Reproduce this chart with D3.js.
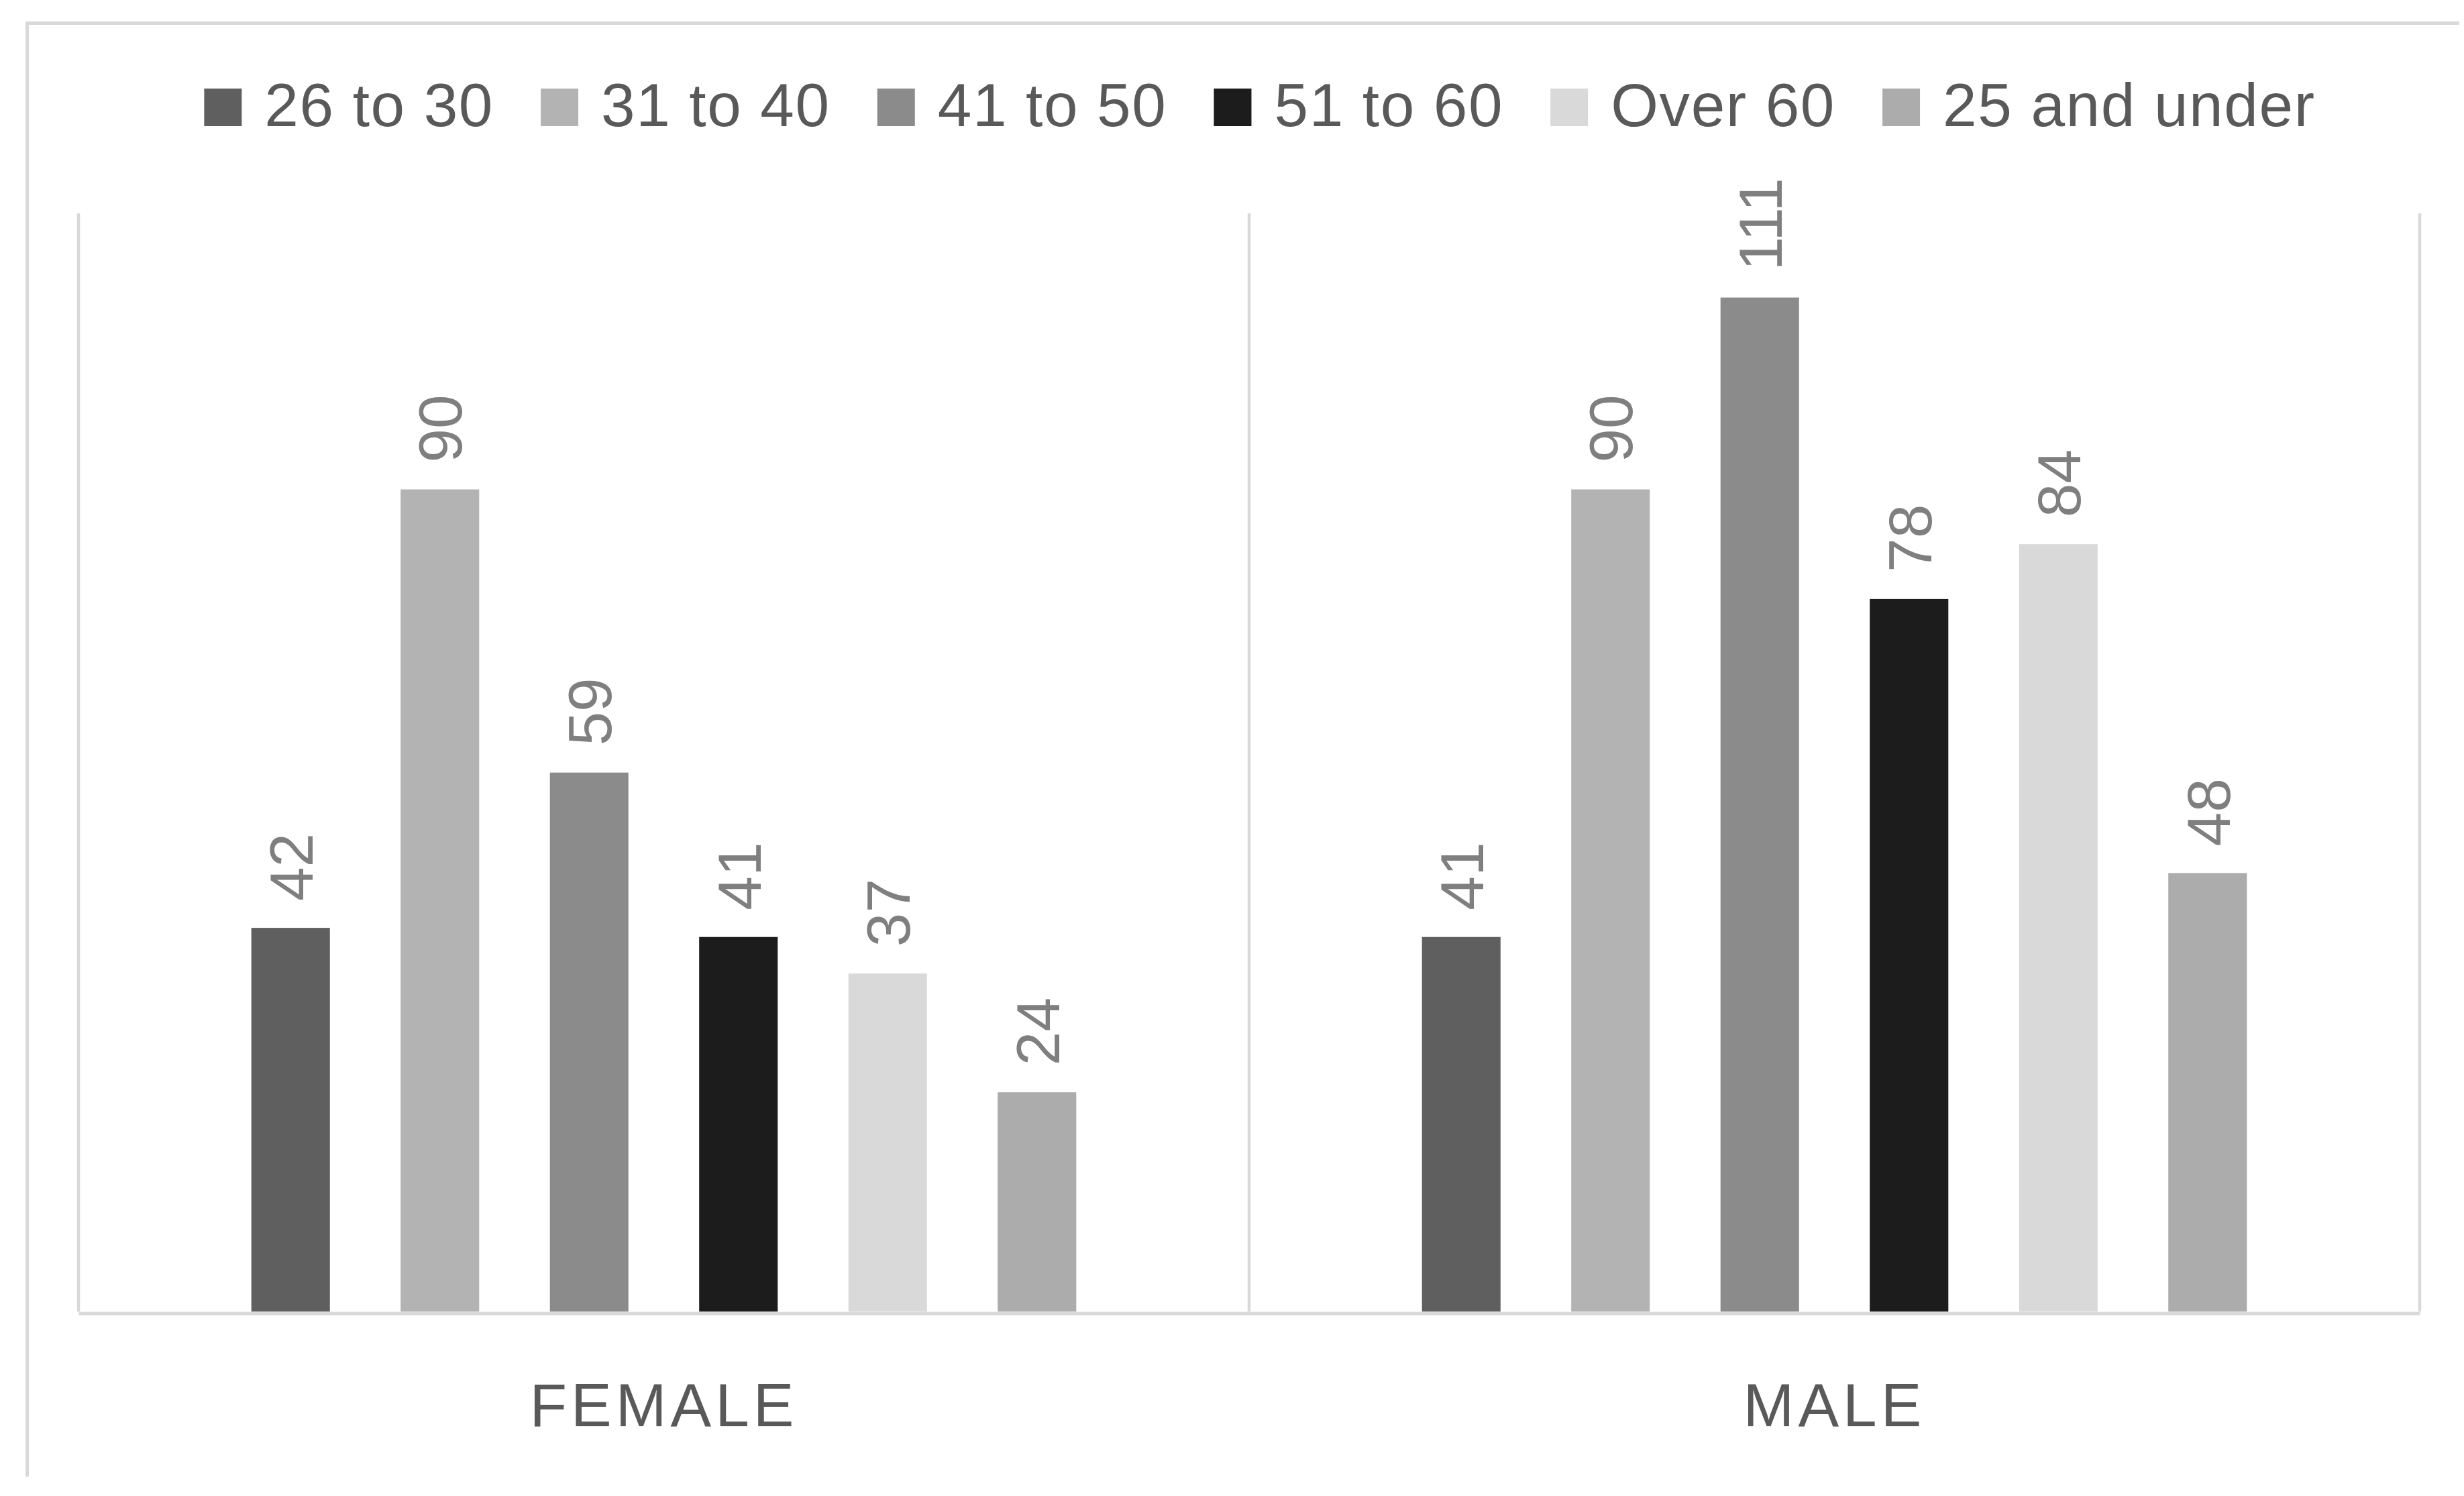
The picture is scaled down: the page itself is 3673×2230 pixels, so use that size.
<!DOCTYPE html>
<html>
<head>
<meta charset="utf-8">
<script src="https://cdn.jsdelivr.net/npm/d3@7/dist/d3.min.js"></script>
<style>
  html, body { margin: 0; padding: 0; background: #ffffff; }
  svg { display: block; }
  text { font-family: "Liberation Sans", Arial, sans-serif; }
</style>
</head>
<body>
<svg id="chart" width="3673" height="2230"></svg>
<script>
// ---- data ----
const categories = ["FEMALE", "MALE"];
const seriesNames = ["26 to 30", "31 to 40", "41 to 50", "51 to 60", "Over 60", "25 and under"];
const femaleValues = [42, 90, 59, 41, 37, 24];
const maleValues = [41, 90, 111, 78, 84, 48];
const seriesColors = ["#5f5f5f", "#b3b3b3", "#8b8b8b", "#1c1c1c", "#d9d9d9", "#acacac"];
const yDomain = [0, 120];

// ---- layout ----
const W = 3673, H = 2230;
const plot = { left: 117, right: 3607, top: 321, bottom: 1955 };
const fontSize = 91;

const svg = d3.select("#chart");

// outer frame (left + top edges visible)
svg.append("path")
  .attr("d", `M40.5,2201 V34.5 H3666`)
  .attr("fill", "none")
  .attr("stroke", "#d9d9d9")
  .attr("stroke-width", 5);

const x0 = d3.scaleBand().domain(categories).range([plot.left, plot.right]).padding(0);
const x1 = d3.scaleBand().domain(seriesNames).range([0, x0.bandwidth()])
  .paddingInner(0.4737).paddingOuter(1.158);
const y = d3.scaleLinear().domain(yDomain).range([plot.bottom, plot.top]);

// vertical category gridlines
const gridXs = categories.map(c => x0(c)).concat([x0(categories[categories.length - 1]) + x0.bandwidth()]);
svg.append("g").selectAll("line").data(gridXs).join("line")
  .attr("x1", d => d).attr("x2", d => d)
  .attr("y1", plot.top - 3).attr("y2", plot.bottom)
  .attr("stroke", "#d9d9d9").attr("stroke-width", 4.5);

const rows = categories.map((c, i) => ({
  cat: c,
  values: (i === 0 ? femaleValues : maleValues).map((v, j) => ({ series: seriesNames[j], value: v, color: seriesColors[j] }))
}));

const groups = svg.append("g").selectAll("g").data(rows).join("g")
  .attr("transform", d => `translate(${x0(d.cat)},0)`);

groups.selectAll("rect").data(d => d.values).join("rect")
  .attr("x", d => x1(d.series))
  .attr("width", x1.bandwidth())
  .attr("y", d => y(d.value))
  .attr("height", d => y(0) - y(d.value))
  .attr("fill", d => d.color);

groups.selectAll("text.lbl").data(d => d.values).join("text")
  .attr("class", "lbl")
  .attr("transform", d => `translate(${x1(d.series) + x1.bandwidth() / 2},${y(d.value) - 40}) rotate(-90)`)
  .attr("dy", "0.36em")
  .attr("text-anchor", "start")
  .attr("font-size", fontSize)
  .attr("fill", "#7f7f7f")
  .text(d => d.value);

// category axis line
const xAxis = d3.axisBottom(x0).tickSize(0).tickPadding(0);
const ax = svg.append("g").attr("transform", `translate(0,${plot.bottom + 2.5})`).call(xAxis);
ax.select(".domain").attr("stroke", "#d9d9d9").attr("stroke-width", 5);
ax.selectAll(".tick text")
  .attr("font-size", fontSize)
  .attr("font-family", "Liberation Sans, Arial, sans-serif")
  .attr("fill", "#595959")
  .attr("letter-spacing", 6)
  .attr("dy", 0)
  .attr("y", 2126 - plot.bottom - 2.5)
  .attr("dx", 0);

// legend
const legend = svg.append("g");
const sq = 56, gapText = 34, gapItem = 70, legendBaseline = 188, legendCenter = 1878;
const items = legend.selectAll("g").data(seriesNames).join("g");
items.append("rect")
  .attr("width", sq).attr("height", sq)
  .attr("y", legendBaseline - sq)
  .attr("fill", (d, i) => seriesColors[i]);
items.append("text")
  .attr("x", sq + gapText)
  .attr("y", legendBaseline)
  .attr("font-size", fontSize)
  .attr("letter-spacing", 1.6)
  .attr("fill", "#595959")
  .text(d => d);
let widths = [];
items.each(function () { widths.push(d3.select(this).select("text").node().getComputedTextLength()); });
const itemW = widths.map(w => sq + gapText + w);
const total = d3.sum(itemW) + gapItem * (itemW.length - 1);
let cur = legendCenter - total / 2;
items.attr("transform", (d, i) => {
  const t = `translate(${cur},0)`;
  cur += itemW[i] + gapItem;
  return t;
});
</script>
</body>
</html>
